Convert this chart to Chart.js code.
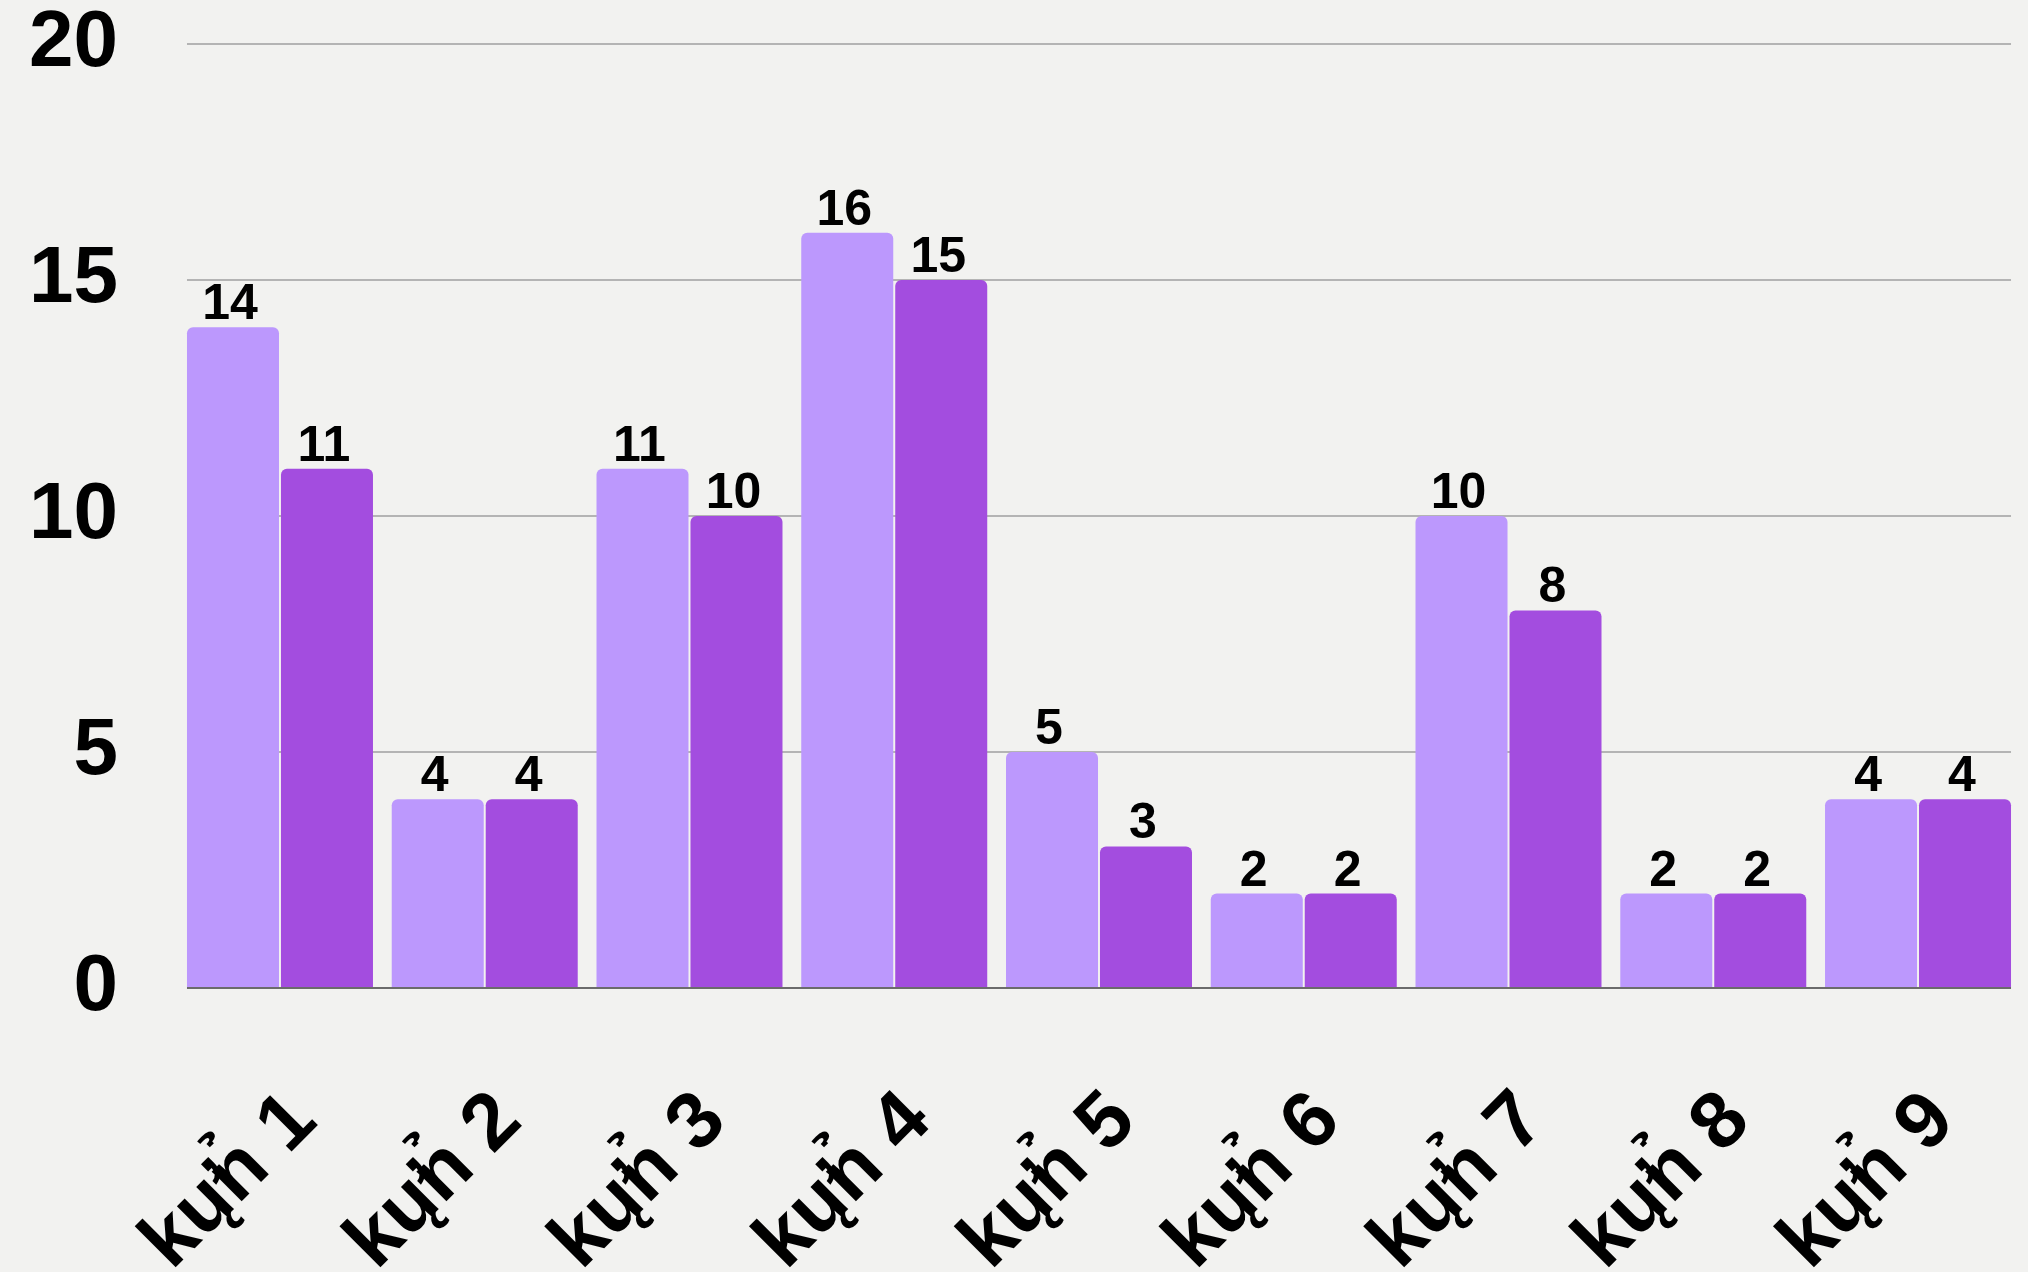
<!DOCTYPE html>
<html>
<head>
<meta charset="utf-8">
<script src="https://cdn.jsdelivr.net/npm/chart.js@4.4.1/dist/chart.umd.min.js"></script>
<style>
  html, body { margin: 0; padding: 0; background: #f2f2f0; }
  #wrap { width: 2028px; height: 1272px; }
</style>
</head>
<body>
<div id="wrap"><canvas id="chart"></canvas></div>
<script>
const WORD = 'k\u0173\u031bn\u0309';
const categories = [1, 2, 3, 4, 5, 6, 7, 8, 9].map(n => WORD + ' ' + n);
const lightValues = [14, 4, 11, 16, 5, 2, 10, 2, 4];
const darkValues = [11, 4, 10, 15, 3, 2, 8, 2, 4];
const yTicks = [0, 5, 10, 15, 20];

const FONT = '"Liberation Sans", Arial, sans-serif';

// grid lines + base line, drawn only across the bars' span
const gridLines = {
  id: 'gridLines',
  beforeDatasetsDraw(chart) {
    const ctx = chart.ctx;
    const y = chart.scales.y;
    const first = chart.getDatasetMeta(0).data[0];
    const lastMeta = chart.getDatasetMeta(1).data;
    const last = lastMeta[lastMeta.length - 1];
    const left = first.x - first.width / 2;
    const right = last.x + last.width / 2;
    ctx.save();
    yTicks.forEach(t => {
      if (t === 0) return;
      const py = Math.round(y.getPixelForValue(t));
      ctx.strokeStyle = '#b4b4b4';
      ctx.lineWidth = 2;
      ctx.beginPath();
      ctx.moveTo(left, py);
      ctx.lineTo(right, py);
      ctx.stroke();
    });
    ctx.restore();
  },
  afterDatasetsDraw(chart) {
    const ctx = chart.ctx;
    const y = chart.scales.y;
    const first = chart.getDatasetMeta(0).data[0];
    const lastMeta = chart.getDatasetMeta(1).data;
    const last = lastMeta[lastMeta.length - 1];
    const py = y.getPixelForValue(0);
    ctx.save();
    ctx.strokeStyle = '#6b6b6b';
    ctx.lineWidth = 2;
    ctx.beginPath();
    ctx.moveTo(first.x - first.width / 2, py);
    ctx.lineTo(last.x + last.width / 2, py);
    ctx.stroke();

    // value labels above bars
    ctx.fillStyle = '#000';
    ctx.font = 'bold 50px ' + FONT;
    ctx.textAlign = 'center';
    ctx.textBaseline = 'alphabetic';
    chart.data.datasets.forEach((ds, i) => {
      chart.getDatasetMeta(i).data.forEach((bar, j) => {
        ctx.fillText(String(ds.data[j]), bar.x - 3, bar.y - 8);
      });
    });
    ctx.restore();
  }
};

new Chart(document.getElementById('chart'), {
  type: 'bar',
  data: {
    labels: categories,
    datasets: [
      {
        label: 'A',
        data: lightValues,
        backgroundColor: '#bc98fd',
        borderRadius: { topLeft: 6, topRight: 6 },
        borderSkipped: 'bottom',
        categoryPercentage: 0.918,
        barPercentage: 0.979
      },
      {
        label: 'B',
        data: darkValues,
        backgroundColor: '#a34ddf',
        borderRadius: { topLeft: 6, topRight: 6 },
        borderSkipped: 'bottom',
        categoryPercentage: 0.918,
        barPercentage: 0.979
      }
    ]
  },
  options: {
    responsive: true,
    maintainAspectRatio: false,
    animation: false,
    devicePixelRatio: 1,
    layout: { padding: { top: 0, right: 7.6, bottom: 0, left: 0 } },
    plugins: {
      legend: { display: false },
      tooltip: { enabled: false }
    },
    scales: {
      x: {
        grid: { display: false, drawTicks: false },
        border: { display: false },
        ticks: {
          color: '#000',
          font: { family: FONT, size: 80, weight: 'bold' },
          minRotation: 45,
          maxRotation: 45,
          autoSkip: false,
          padding: 86,
          labelOffset: 24
        },
        afterFit: s => { s.height = 284; s.paddingLeft = 0; s.paddingRight = 0; }
      },
      y: {
        min: 0,
        max: 20,
        grid: { display: false, drawTicks: false },
        border: { display: false },
        ticks: {
          stepSize: 5,
          color: '#000',
          font: { family: FONT, size: 80, weight: 'bold', lineHeight: 1.1 },
          padding: 59.6
        },
        afterFit: s => { s.width = 177.6; s.paddingTop = 44; s.paddingBottom = 44; }
      }
    }
  },
  plugins: [gridLines]
});
</script>
</body>
</html>
